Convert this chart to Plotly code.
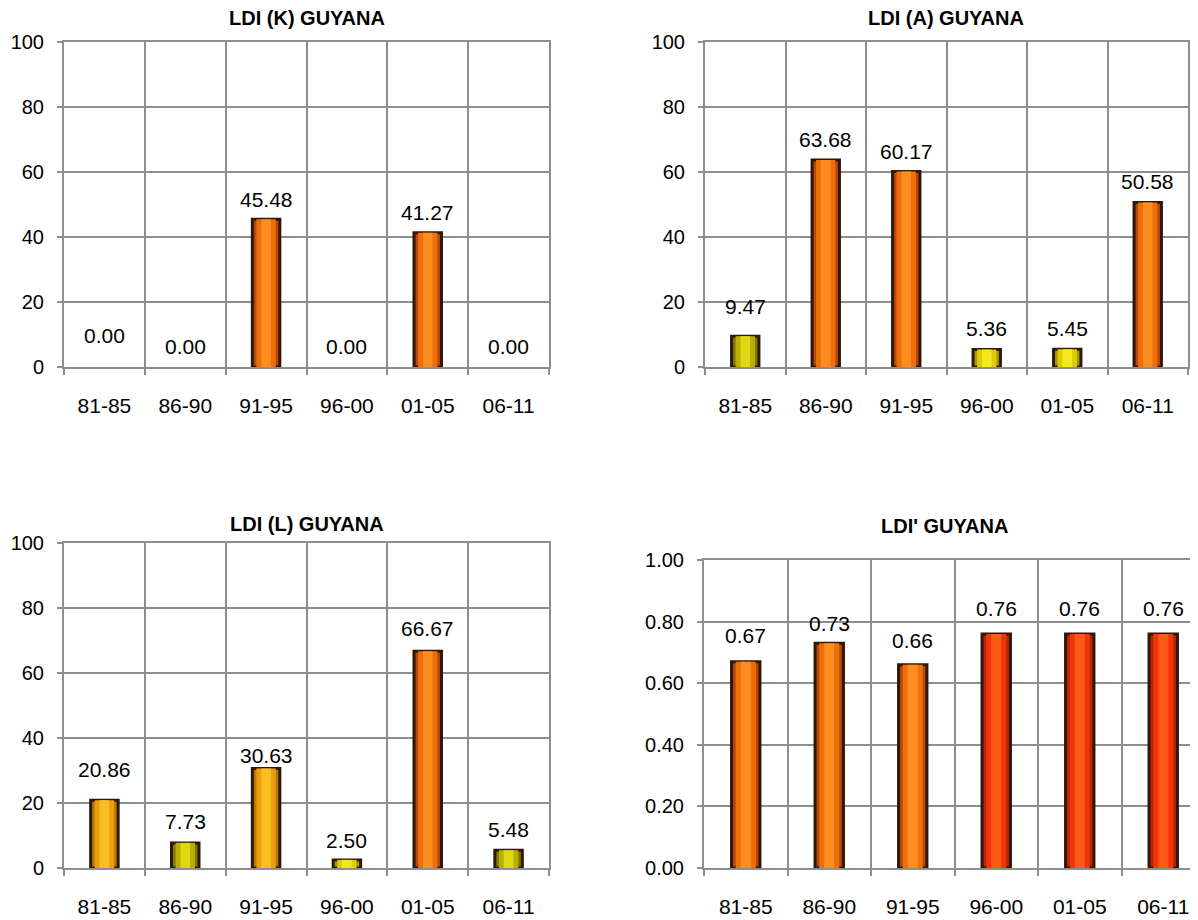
import plotly.graph_objects as go

# ---------------- data ----------------
categories = ["81-85", "86-90", "91-95", "96-00", "01-05", "06-11"]
ldi_k = [0.00, 0.00, 45.48, 0.00, 41.27, 0.00]
ldi_a = [9.47, 63.68, 60.17, 5.36, 5.45, 50.58]
ldi_l = [20.86, 7.73, 30.63, 2.50, 66.67, 5.48]
ldi_prime = [0.67, 0.73, 0.66, 0.76, 0.76, 0.76]

titles = ["LDI (K) GUYANA", "LDI (A) GUYANA", "LDI (L) GUYANA", "LDI' GUYANA"]
y_ticks_pct = [0, 20, 40, 60, 80, 100]
y_ticks_frac = [0.0, 0.2, 0.4, 0.6, 0.8, 1.0]

# ---------------- style ----------------
# (edge colour, body colour, highlight colour)
ORANGE = ("#B8470A", "#EE6E0C", "#FB8E1E")
AMBER = ("#B87808", "#EE9E0C", "#F9BE22")
YELLOW = ("#A89800", "#DCCC06", "#F2E81C")
OLIVE = ("#7E7C00", "#B8B000", "#E0D812")
RED = ("#B8260A", "#F0340C", "#FF5A18")

colors_k = [ORANGE] * 6
colors_a = [OLIVE, ORANGE, ORANGE, YELLOW, YELLOW, ORANGE]
colors_l = [AMBER, OLIVE, AMBER, YELLOW, ORANGE, OLIVE]
colors_p = [ORANGE, ORANGE, ORANGE, RED, RED, RED]

# label offsets above bar top (px)
shift_k = [31, 20, 20, 20, 20, 20]
shift_a = [30, 21, 20, 21, 21, 21]
shift_l = [31, 21, 13, 19, 23, 21]
shift_p = [26, 20, 24, 25, 25, 25]

OFF = 8  # page body margin
W, H = 1198 - OFF, 920 - OFF
GRID = "#8E8E8E"
FONT = "Liberation Sans, Arial, sans-serif"
BORDER = "#2E1804"
FS = 21

# panel pixel boxes (page coords): left, right, top, bottom
panels = [
    dict(vals=ldi_k, cols=colors_k, shift=shift_k, box=(64, 549, 42, 367), xr=(-0.5, 5.5),
         yr=(0, 100), ticks=y_ticks_pct, fmt=".0f", title=titles[0], tpos=(307, 18)),
    dict(vals=ldi_a, cols=colors_a, shift=shift_a, box=(705, 1188, 42, 367), xr=(-0.5, 5.5),
         yr=(0, 100), ticks=y_ticks_pct, fmt=".0f", title=titles[1], tpos=(946, 18)),
    dict(vals=ldi_l, cols=colors_l, shift=shift_l, box=(64, 549, 543, 868), xr=(-0.5, 5.5),
         yr=(0, 100), ticks=y_ticks_pct, fmt=".0f", title=titles[2], tpos=(307, 524)),
    dict(vals=ldi_prime, cols=colors_p, shift=shift_p, box=(704, 1198, 560, 868),
         xr=(-0.5, -0.5 + 494 / 83.5), yr=(0, 1.0), ticks=y_ticks_frac, fmt=".2f",
         title=titles[3], tpos=(944, 526)),
]

fig = go.Figure()
annotations = []
layout = {}

for i, p in enumerate(panels, start=1):
    xa = "x" if i == 1 else f"x{i}"
    ya = "y" if i == 1 else f"y{i}"
    l, r, t, b = [v - OFF for v in p["box"]]
    vals = p["vals"]
    lw = [3 if v > 0 else 0 for v in vals]
    fig.add_trace(go.Bar(
        x=categories, y=vals, xaxis=xa, yaxis=ya, width=0.34,
        marker=dict(color=[c[0] for c in p["cols"]], line=dict(color=BORDER, width=lw)),
        showlegend=False, hoverinfo="x+y",
    ))
    fig.add_trace(go.Bar(
        x=categories, y=vals, xaxis=xa, yaxis=ya, width=0.24,
        marker=dict(color=[c[1] for c in p["cols"]], line=dict(width=0)),
        showlegend=False, hoverinfo="skip",
    ))
    fig.add_trace(go.Bar(
        x=categories, y=vals, xaxis=xa, yaxis=ya, width=0.12,
        marker=dict(color=[c[2] for c in p["cols"]], line=dict(width=0)),
        showlegend=False, hoverinfo="skip",
    ))
    for cat, v, s in zip(categories, vals, p["shift"]):
        annotations.append(dict(
            x=cat, y=v, xref=xa, yref=ya, text="{:.2f}".format(v),
            showarrow=False, yanchor="middle", yshift=s,
            font=dict(family=FONT, size=FS, color="#000000"),
        ))
    annotations.append(dict(
        x=(p["tpos"][0] - OFF) / W, y=1 - (p["tpos"][1] - OFF) / H,
        xref="paper", yref="paper",
        text=f"<b>{p['title']}</b>", showarrow=False, xanchor="center", yanchor="middle",
        font=dict(family=FONT, size=20, color="#000000"),
    ))
    layout["xaxis" if i == 1 else f"xaxis{i}"] = dict(
        domain=[l / W, min(r / W, 1.0)], anchor=ya, type="category",
        range=list(p["xr"]), tickson="boundaries", showgrid=True, automargin=False,
        gridcolor=GRID, gridwidth=2, showline=True, linecolor=GRID, linewidth=2,
        mirror=True, ticks="outside", ticklen=6, tickcolor=GRID, tickwidth=2,
        ticklabelstandoff=19, tickfont=dict(family=FONT, size=FS, color="#000000"),
        zeroline=False, fixedrange=True,
    )
    layout["yaxis" if i == 1 else f"yaxis{i}"] = dict(
        domain=[1 - b / H, 1 - t / H], anchor=xa, range=list(p["yr"]), automargin=False,
        tickmode="array", tickvals=p["ticks"], tickformat=p["fmt"],
        showgrid=True, gridcolor=GRID, gridwidth=2, showline=True, linecolor=GRID,
        linewidth=2, mirror=True, ticks="outside", ticklen=5, tickcolor=GRID,
        tickwidth=2, ticklabelstandoff=9,
        tickfont=dict(family=FONT, size=20, color="#000000"),
        zeroline=False, fixedrange=True,
    )

fig.update_layout(
    width=W, height=H, margin=dict(l=0, r=0, t=0, b=0),
    paper_bgcolor="white", plot_bgcolor="white",
    barmode="overlay", annotations=annotations, **layout,
)

fig.write_html("out.html")
